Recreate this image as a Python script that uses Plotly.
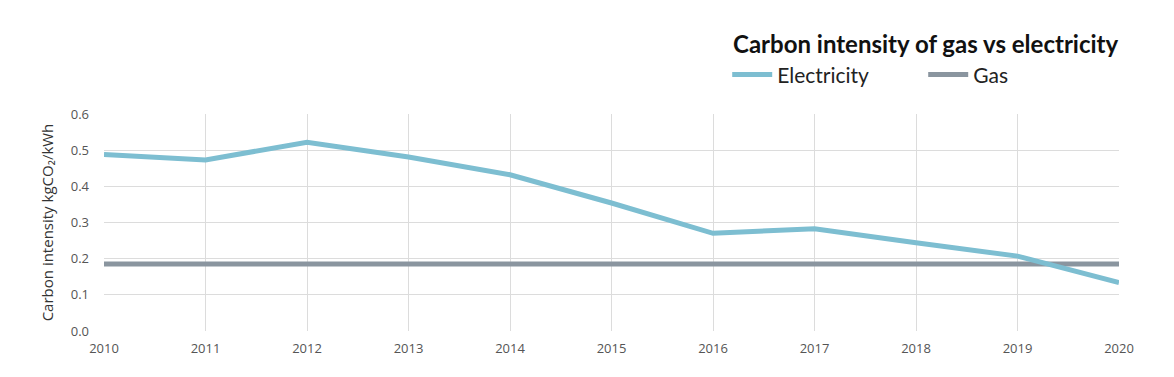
import plotly.graph_objects as go

years = [2010, 2011, 2012, 2013, 2014, 2015, 2016, 2017, 2018, 2019, 2020]
electricity = [0.488, 0.473, 0.522, 0.481, 0.432, 0.354, 0.270, 0.283, 0.244, 0.207, 0.134]
gas = [0.185] * len(years)
y_ticks = [0.0, 0.1, 0.2, 0.3, 0.4, 0.5, 0.6]

FONT = "Lato"
TICKFONT = "Open Sans"

fig = go.Figure()
fig.add_trace(go.Scatter(x=years, y=gas, mode="lines", name="Gas",
                         line=dict(color="#8a959f", width=5), legendrank=2))
fig.add_trace(go.Scatter(x=years, y=electricity, mode="lines", name="Electricity",
                         line=dict(color="#7dbed1", width=5), legendrank=1))

fig.update_layout(
    width=1174, height=377,
    margin=dict(l=96, r=63, t=106, b=54, autoexpand=False),
    paper_bgcolor="white", plot_bgcolor="white",
    font=dict(family=FONT, color="#444"),
    showlegend=True,
    legend=dict(orientation="h", x=0.614, xanchor="left", y=1.18, yanchor="middle",
                font=dict(size=21, color="#222", family=FONT), itemwidth=40,
                entrywidth=141, bgcolor="rgba(0,0,0,0)"),
    annotations=[dict(text="<b>Carbon intensity of gas vs electricity</b>",
                      xref="paper", yref="paper", x=1.002, y=1.325, xanchor="right", yanchor="middle",
                      showarrow=False, font=dict(size=24, color="#111", family=FONT))],
)
fig.update_xaxes(range=[2010, 2020], tickvals=years, ticktext=[str(y) for y in years],
                 showgrid=True, gridcolor="#dcdcdc", gridwidth=1, zeroline=False,
                 showline=False, ticks="", ticklabelstandoff=8,
                 tickfont=dict(size=13, color="#555", family=TICKFONT))
fig.update_yaxes(range=[0, 0.6], tickvals=y_ticks, ticktext=[f"{v:.1f}" for v in y_ticks],
                 showgrid=True, gridcolor="#dcdcdc", gridwidth=1, zeroline=False,
                 showline=False, ticks="", ticklabelstandoff=14,
                 tickfont=dict(size=13, color="#555", family=TICKFONT),
                 title=dict(text="Carbon intensity kgCO₂/kWh",
                            font=dict(size=15, color="#333", family=TICKFONT), standoff=13))

fig.write_html("out.html")
